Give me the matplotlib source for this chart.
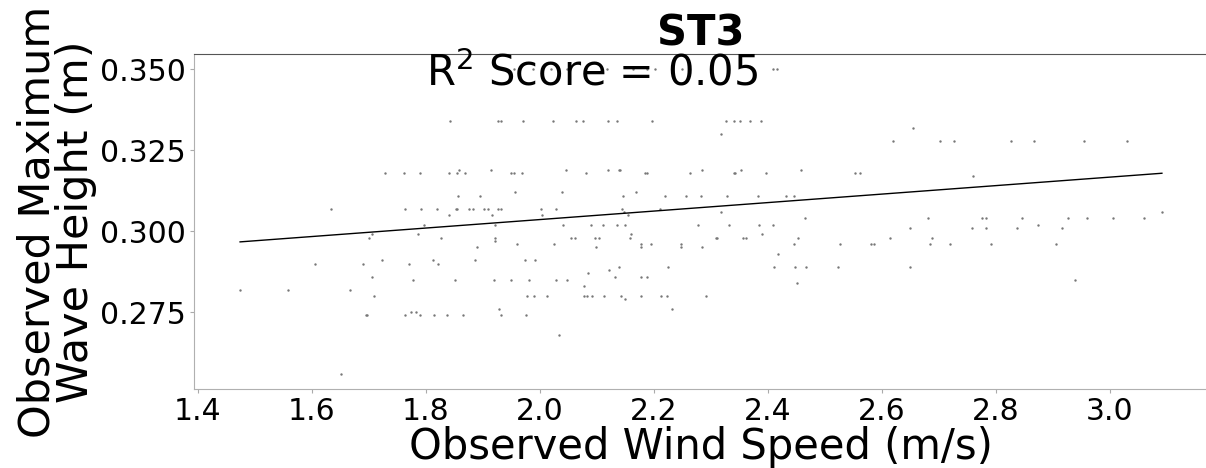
"""
ST3: observed wind speed vs observed maximum wave height, with a linear fit
"""

import matplotlib.pyplot as plt
import numpy as np

rows = [
    (0.350, [1.955, 1.988, 2.020, 2.048, 2.117, 2.163, 2.188, 2.201, 2.250, 2.409, 2.416]),
    (0.334, [1.843, 1.926, 1.932, 1.971, 2.023, 2.063, 2.076, 2.119, 2.136, 2.197,
             2.326, 2.340, 2.351, 2.369, 2.388]),
    (0.332, [2.654]),
    (0.330, [2.318]),
    (0.328, [2.619, 2.702, 2.726, 2.827, 2.867, 2.954, 3.030]),
    (0.319, [1.858, 1.915, 2.046, 2.119, 2.139, 2.140, 2.284, 2.353, 2.458]),
    (0.318, [1.729, 1.762, 1.789, 1.840, 1.855, 1.868, 1.950, 1.954, 1.969, 2.081,
             2.184, 2.187, 2.263, 2.341, 2.343, 2.396, 2.553, 2.562]),
    (0.317, [2.759]),
    (0.312, [1.956, 2.039, 2.168]),
    (0.311, [1.857, 1.894, 2.146, 2.220, 2.257, 2.282, 2.328, 2.383, 2.431, 2.445]),
    (0.307, [1.634, 1.763, 1.791, 1.820, 1.852, 1.855, 1.875, 1.883, 1.902, 1.908,
             1.926, 1.931, 2.002, 2.028, 2.144, 2.211]),
    (0.306, [2.148, 2.318, 3.091]),
    (0.305, [1.840, 1.916, 2.003, 2.155]),
    (0.304, [2.465, 2.681, 2.776, 2.782, 2.846, 2.927, 2.960, 3.006, 3.060]),
    (0.302, [1.797, 1.922, 2.040, 2.090, 2.110, 2.135, 2.150, 2.278, 2.331, 2.384,
             2.408, 2.874]),
    (0.301, [2.649, 2.758, 2.783, 2.836, 2.916]),
    (0.299, [1.706, 1.786, 2.160, 2.390]),
    (0.298, [1.701, 1.827, 1.922, 2.054, 2.062, 2.096, 2.104, 2.158, 2.309, 2.311,
             2.357, 2.361, 2.453, 2.614, 2.688]),
    (0.297, [1.922]),
    (0.296, [1.960, 2.025, 2.178, 2.195, 2.248, 2.446, 2.527, 2.580, 2.586, 2.685,
             2.720, 2.792, 2.905]),
    (0.295, [1.890, 2.099, 2.178, 2.248, 2.284]),
    (0.293, [2.418]),
    (0.291, [1.723, 1.813, 1.886, 1.974, 1.992]),
    (0.290, [1.605, 1.689, 1.771, 1.822]),
    (0.289, [2.139, 2.224, 2.411, 2.447, 2.467, 2.522, 2.649]),
    (0.288, [2.121]),
    (0.287, [2.085]),
    (0.286, [1.706, 2.132, 2.178, 2.188]),
    (0.285, [1.777, 1.851, 1.919, 1.950, 1.981, 2.029, 2.048, 2.939]),
    (0.284, [2.451]),
    (0.283, [2.078]),
    (0.282, [1.474, 1.558, 1.667]),
    (0.280, [1.709, 1.978, 1.990, 2.013, 2.078, 2.083, 2.091, 2.113, 2.143, 2.178,
             2.213, 2.223, 2.292]),
    (0.279, [2.149]),
    (0.276, [1.929, 2.232]),
    (0.275, [1.774, 1.783]),
    (0.274, [1.694, 1.697, 1.763, 1.790, 1.815, 1.837, 1.865, 1.931, 1.975]),
    (0.268, [2.033]),
    (0.256, [1.651]),
]

wind_speed = np.array([w for _, ws in rows for w in ws])
wave_height = np.array([h for h, ws in rows for _ in ws])

# fitted line as drawn in the picture
fit_slope = 0.0131
fit_intercept = 0.2774
r2_score = 0.05
title = "ST3"

fig = plt.figure(figsize=(12.06, 4.68), dpi=100)
ax = fig.add_axes([194 / 1206, 79 / 468, 1014 / 1206, 335 / 468])

ax.scatter(wind_speed, wave_height, s=3, color="#777777", linewidths=0, zorder=2)

xs = np.array([wind_speed.min(), wind_speed.max()])
ax.plot(xs, fit_slope * xs + fit_intercept, color="black", linewidth=1, zorder=3)

ax.text(1.8, 0.345, rf"R$^2$ Score = {r2_score:.2f}", fontsize=30)
ax.set_title(title, fontsize=30, fontweight="bold", pad=2)
ax.set_xlabel("Observed Wind Speed (m/s)", fontsize=30, labelpad=0)
ax.set_ylabel("Observed Maximum\nWave Height (m)", fontsize=31, labelpad=2, linespacing=0.9)

ax.set_xticks(np.arange(1.4, 3.01, 0.2))
ax.set_yticks([0.275, 0.300, 0.325, 0.350])
ax.tick_params(labelsize=21.5, length=3, width=0.8, color="#aaaaaa", pad=3)

ax.spines["top"].set_color("#555555")
ax.spines["left"].set_color("#b0b0b0")
ax.spines["bottom"].set_color("#b0b0b0")
ax.spines["right"].set_visible(False)

fig.savefig("out.png", dpi=100)
